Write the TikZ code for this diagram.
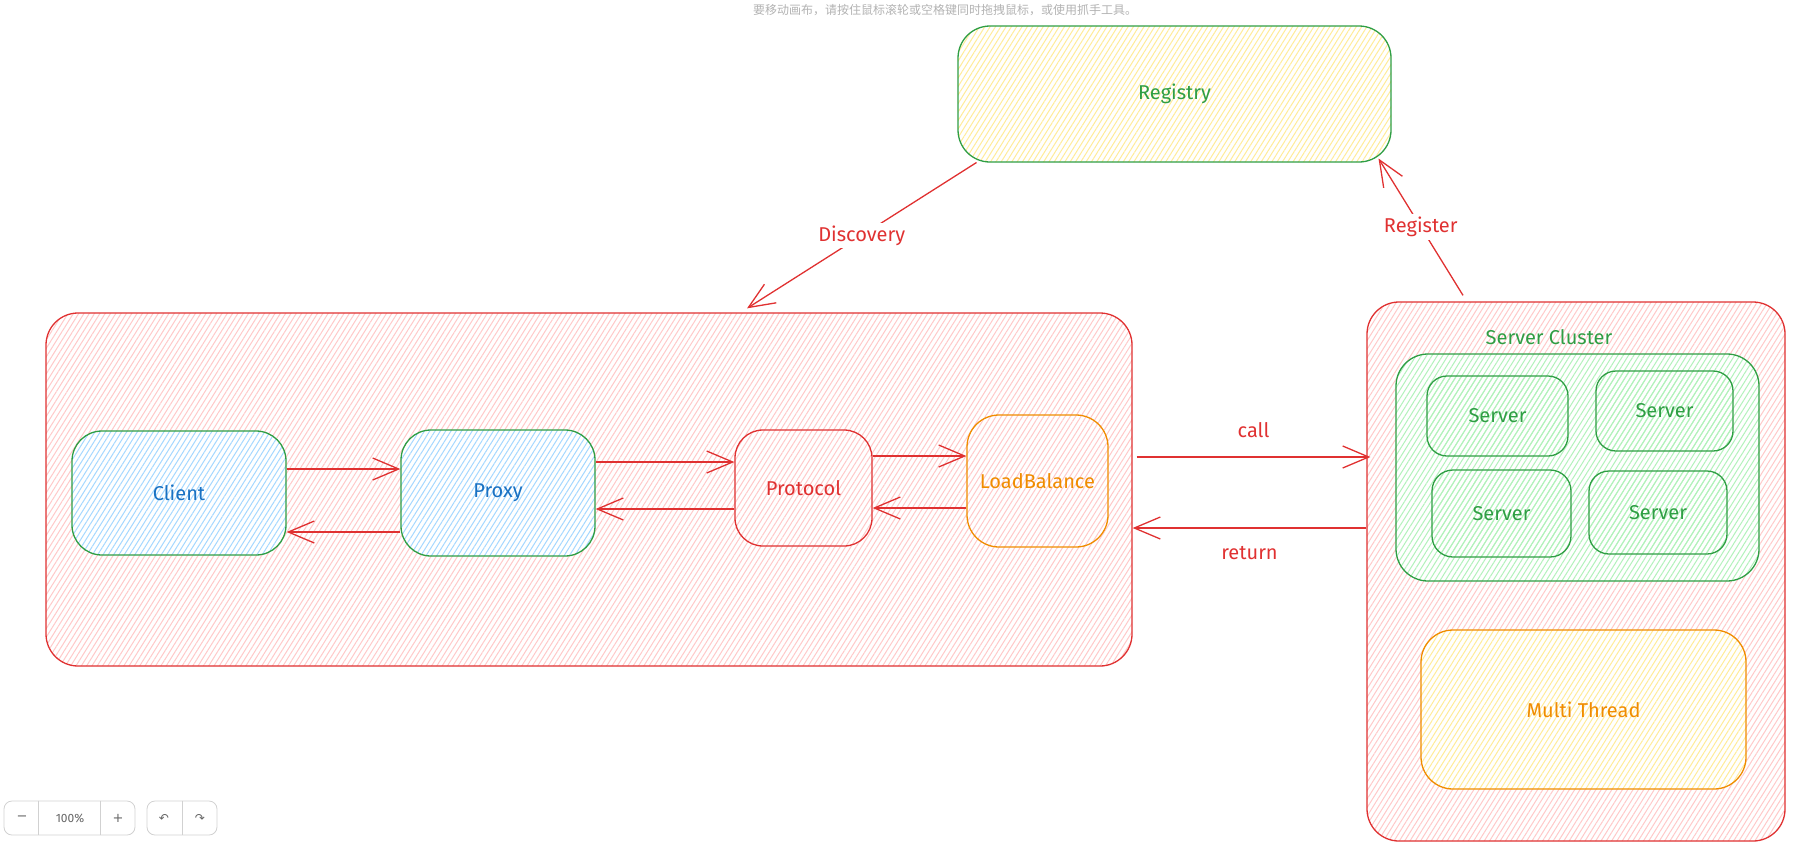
\documentclass[tikz,border=0pt]{standalone}
\usepackage{fontspec}
\setmainfont{Fira Sans}
\newfontfamily\cjk{Noto Sans CJK SC}
\newfontfamily\symfont{DejaVu Sans}
\usetikzlibrary{arrows.meta,patterns.meta,positioning}

\definecolor{exred}{HTML}{E03131}
\definecolor{exgreen}{HTML}{2F9E44}
\definecolor{exblue}{HTML}{1971C2}
\definecolor{exorange}{HTML}{F08C00}
\definecolor{hpink}{HTML}{FFC9C9}
\definecolor{hblue}{HTML}{A5D8FF}
\definecolor{hgreen}{HTML}{B2F2BB}
\definecolor{hyellow}{HTML}{FFEC99}

\tikzset{
  sketchbox/.style={draw=#1, line width=1.3pt, inner sep=0pt, rectangle},
  hatch/.style={preaction={fill=white}, pattern={Lines[angle=58,distance=4.5pt,line width=1pt]}, pattern color=#1},
  overhatch/.style={pattern={Lines[angle=58,distance=4.5pt,line width=1pt]}, pattern color=#1},
  flow/.style={draw=exred, line width=1.3pt, -{Straight Barb[length=26pt,width=22pt]}},
  hand/.style={font=\fontsize{20}{24}\selectfont},
  lbl/.style={fill=white, text=exred, hand, inner sep=3pt},
  ctrl/.style={draw=black!18, line width=0.8pt, rounded corners=8pt, inner sep=0pt},
  ctrltext/.style={text=black!60, font=\fontsize{12}{14}\selectfont},
}

\begin{document}
\begin{tikzpicture}[x=1pt, y=-1pt]

    \useasboundingbox (0,0) rectangle (1817,847);

    % Hint
    \node[text=black!30, font=\cjk\fontsize{12}{14}\selectfont] at (945,10) (hint) {要移动画布，请按住鼠标滚轮或空格键同时拖拽鼠标，或使用抓手工具。};

    % Nodes
    \node[sketchbox=exgreen, hatch=hyellow, rounded corners=32pt, minimum width=433pt, minimum height=136pt, text=exgreen, hand] at (1174.5,94) (registry) {Registry};

    \node[sketchbox=exred, hatch=hpink, rounded corners=32pt, minimum width=1086pt, minimum height=353pt] at (589,489.5) (clientside) {};
    \node[sketchbox=exred, hatch=hpink, rounded corners=32pt, minimum width=418pt, minimum height=539pt] at (1576,571.5) (serverside) {};

    \node[sketchbox=exgreen, hatch=hblue, rounded corners=30pt, minimum width=214pt, minimum height=124pt, text=exblue, hand] at (179,493) (client) {Client};
    \node[sketchbox=exgreen, hatch=hblue, rounded corners=30pt, minimum width=194pt, minimum height=126pt, text=exblue, hand] at (498,493) (proxy) {Proxy};
    \node[sketchbox=exred, hatch=hpink, rounded corners=28pt, minimum width=137pt, minimum height=116pt, text=exred, hand] at (803.5,488) (protocol) {Protocol};
    \node[sketchbox=exorange, hatch=hpink, rounded corners=32pt, minimum width=141pt, minimum height=132pt, text=exorange, hand] at (1037.5,481) (loadbal) {LoadBalance};

    \node[text=exgreen, hand] at (1549,337) (clustername) {Server Cluster};
    \node[sketchbox=exgreen, hatch=hgreen, rounded corners=32pt, minimum width=363pt, minimum height=227pt] at (1577.5,467.5) (cluster) {};
    \node[sketchbox=exgreen, overhatch=hgreen, rounded corners=20pt, minimum width=141pt, minimum height=80pt, text=exgreen, hand] at (1497.5,416) (server1) {Server};
    \node[sketchbox=exgreen, overhatch=hgreen, rounded corners=20pt, minimum width=137pt, minimum height=80pt, text=exgreen, hand] at (1664.5,411) (server2) {Server};
    \node[sketchbox=exgreen, overhatch=hgreen, rounded corners=21pt, minimum width=139pt, minimum height=87pt, text=exgreen, hand] at (1501.5,513.5) (server3) {Server};
    \node[sketchbox=exgreen, overhatch=hgreen, rounded corners=20pt, minimum width=138pt, minimum height=83pt, text=exgreen, hand] at (1658,512.5) (server4) {Server};

    \node[sketchbox=exorange, hatch=hyellow, rounded corners=32pt, minimum width=325pt, minimum height=159pt, text=exorange, hand] at (1583.5,709.5) (thread) {Multi Thread};

    % Lines
    \draw[flow] ([xshift=19pt]registry.south west) -- node[lbl] {Discovery} ([xshift=158pt,yshift=4pt]clientside.north);
    \draw[flow] ([xshift=-113pt,yshift=6pt]serverside.north) -- node[lbl] {Register} ([xshift=-13pt,yshift=4pt]registry.south east);

    \draw[flow] ([yshift=24pt]client.east) -- ([yshift=24pt]client.east -| proxy.west);
    \draw[flow] ([yshift=-39pt]proxy.west) -- ([yshift=-39pt]proxy.west -| client.east);
    \draw[flow] ([yshift=31pt]proxy.east) -- ([yshift=31pt]proxy.east -| protocol.west);
    \draw[flow] ([yshift=-21pt]protocol.west) -- ([yshift=-21pt]protocol.west -| proxy.east);
    \draw[flow] ([yshift=32pt]protocol.east) -- ([yshift=32pt]protocol.east -| loadbal.west);
    \draw[flow] ([yshift=-27pt]loadbal.west) -- ([yshift=-27pt]loadbal.west -| protocol.east);

    \draw[flow] ([xshift=4pt,yshift=32.5pt]clientside.east) -- node[text=exred, hand, inner sep=0pt, above=19pt] {call} ([xshift=4pt,yshift=32.5pt]clientside.east -| serverside.west);
    \draw[flow] ([yshift=43.5pt]serverside.west) -- node[text=exred, hand, inner sep=0pt, below=18pt] {return} ([yshift=43.5pt]serverside.west -| clientside.east);

    % Zoom controls
    \node[ctrl, minimum width=131pt, minimum height=34pt] at (69.5,818) (zoombar) {};
    \node[ctrl, minimum width=70pt, minimum height=34pt] at (182,818) (historybar) {};
    \draw[draw=black!18, line width=0.8pt] ([xshift=35pt]zoombar.north west) -- ([xshift=35pt]zoombar.south west);
    \draw[draw=black!18, line width=0.8pt] ([xshift=-35pt]zoombar.north east) -- ([xshift=-35pt]zoombar.south east);
    \draw[draw=black!18, line width=0.8pt] (historybar.north) -- (historybar.south);
    \node[ctrltext, font=\symfont\fontsize{13}{14}\selectfont] at (22,818) (zoomout) {−};
    \node[ctrltext] at (70,818) (zoomlevel) {100\%};
    \node[ctrltext, font=\symfont\fontsize{13}{14}\selectfont] at (118,818) (zoomin) {+};
    \node[ctrltext, font=\symfont\fontsize{12}{14}\selectfont] at (164,818) (undo) {↶};
    \node[ctrltext, font=\symfont\fontsize{12}{14}\selectfont] at (200,818) (redo) {↷};

\end{tikzpicture}
\end{document}
